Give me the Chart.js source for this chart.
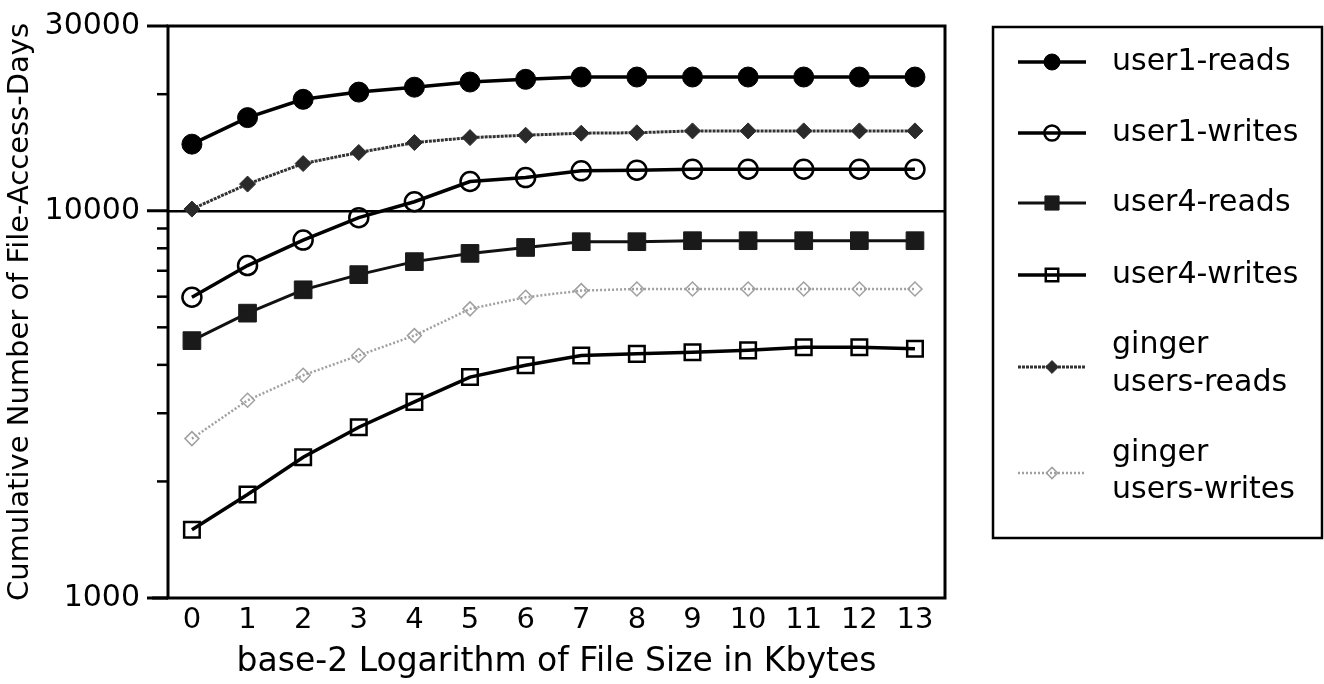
<!DOCTYPE html>
<html>
<head>
<meta charset="utf-8">
<script src="https://cdn.jsdelivr.net/npm/chart.js@4/dist/chart.umd.min.js"></script>
<style>
  html, body { margin: 0; padding: 0; background: #fff; }
  #wrap { width: 1324px; height: 684px; position: relative; }
</style>
</head>
<body>
<div id="wrap"><canvas id="c" width="1324" height="684"></canvas></div>
<script>
// ---- data ----
const xValues = [0, 1, 2, 3, 4, 5, 6, 7, 8, 9, 10, 11, 12, 13];
const user1Reads   = [14860, 17400, 19400, 20250, 20850, 21500, 21850, 22150, 22150, 22150, 22150, 22150, 22150, 22150];
const user1Writes  = [5980, 7220, 8400, 9600, 10550, 11900, 12180, 12680, 12730, 12800, 12800, 12800, 12800, 12800];
const user4Reads   = [4620, 5440, 6250, 6840, 7390, 7760, 8040, 8320, 8320, 8370, 8370, 8370, 8370, 8370];
const user4Writes  = [1500, 1850, 2310, 2760, 3210, 3720, 3990, 4230, 4270, 4310, 4360, 4440, 4440, 4400];
const gingerReads  = [10100, 11720, 13240, 14140, 15000, 15450, 15670, 15860, 15900, 16080, 16080, 16080, 16080, 16080];
const gingerWrites = [2580, 3240, 3760, 4230, 4760, 5580, 5980, 6220, 6280, 6280, 6280, 6280, 6280, 6280];
const yMajorLabels = [1000, 10000, 30000];
const yMinorTicks = [2000, 3000, 4000, 5000, 6000, 7000, 8000, 9000, 20000];
const xTitle = 'base-2 Logarithm of File Size in Kbytes';
const yTitle = 'Cumulative Number of File-Access-Days';

const FONT = 'DejaVu Sans';
const pts = arr => arr.map((v, i) => ({ x: xValues[i], y: v }));

const seriesDefs = [
  { label: 'user1-reads', data: user1Reads, color: '#000', width: 3.5, dash: [], pointStyle: 'circle', radius: 10, fill: '#000', pborder: '#000', pwidth: 1 },
  { label: 'user1-writes', data: user1Writes, color: '#000', width: 3.5, dash: [], pointStyle: 'circle', radius: 9.5, fill: 'rgba(255,255,255,0)', pborder: '#000', pwidth: 2.5 },
  { label: 'user4-reads', data: user4Reads, color: '#111', width: 3, dash: [], pointStyle: 'rect', radius: 12.5, fill: '#1a1a1a', pborder: '#1a1a1a', pwidth: 1 },
  { label: 'user4-writes', data: user4Writes, color: '#000', width: 3.5, dash: [], pointStyle: 'rect', radius: 11, fill: 'rgba(255,255,255,0)', pborder: '#000', pwidth: 2.5 },
  { label: ['ginger', 'users-reads'], data: gingerReads, color: '#333', width: 3, dash: [3, 1], pointStyle: 'rectRot', radius: 8, fill: '#2a2a2a', pborder: '#2a2a2a', pwidth: 1 },
  { label: ['ginger', 'users-writes'], data: gingerWrites, color: '#a0a0a0', width: 2.5, dash: [2, 2], pointStyle: 'rectRot', radius: 7, fill: 'rgba(255,255,255,0)', pborder: '#a0a0a0', pwidth: 1.5 }
];

const datasets = seriesDefs.map(s => ({
  label: Array.isArray(s.label) ? s.label.join(' ') : s.label,
  data: pts(s.data),
  borderColor: s.color,
  borderWidth: s.width,
  borderDash: s.dash,
  pointStyle: s.pointStyle,
  pointRadius: s.radius,
  pointBackgroundColor: s.fill,
  pointBorderColor: s.pborder,
  pointBorderWidth: s.pwidth,
  tension: 0,
  fill: false
}));
datasets.forEach((d, i) => { d.order = i >= 4 ? 10 : 5 - i; });

const frameAndLegend = {
  id: 'frameAndLegend',
  afterDraw(chart) {
    const ctx = chart.ctx;
    const a = chart.chartArea;
    const ys = chart.scales.y;
    ctx.save();
    ctx.strokeStyle = '#000';
    ctx.lineWidth = 3;
    ctx.strokeRect(a.left, a.top, a.right - a.left, a.bottom - a.top);
    ctx.beginPath();
    ctx.moveTo(a.left - 16, a.bottom);
    ctx.lineTo(a.left, a.bottom);
    ctx.stroke();
    // y tick marks
    yMajorLabels.forEach(v => {
      const py = ys.getPixelForValue(v);
      ctx.beginPath();
      ctx.moveTo(a.left - 21, py);
      ctx.lineTo(a.left, py);
      ctx.stroke();
    });
    ctx.lineWidth = 2.5;
    yMinorTicks.forEach(v => {
      const py = ys.getPixelForValue(v);
      ctx.beginPath();
      ctx.moveTo(a.left - 11, py);
      ctx.lineTo(a.left, py);
      ctx.stroke();
    });

    // legend
    const lx = 993, ly = 27, lw = 329, lh = 511;
    ctx.lineWidth = 2.5;
    ctx.strokeStyle = '#000';
    ctx.strokeRect(lx, ly, lw, lh);
    const rows = [
      { lines: [62], mark: 62 },
      { lines: [133], mark: 133 },
      { lines: [203], mark: 203 },
      { lines: [275], mark: 275 },
      { lines: [345, 383], mark: 367 },
      { lines: [453, 490], mark: 473 }
    ];
    ctx.font = '30px "' + FONT + '"';
    ctx.fillStyle = '#000';
    ctx.textBaseline = 'middle';
    ctx.textAlign = 'left';
    seriesDefs.forEach((s, i) => {
      const r = rows[i];
      ctx.save();
      ctx.strokeStyle = s.color;
      ctx.lineWidth = s.width;
      ctx.setLineDash(s.dash);
      ctx.beginPath();
      ctx.moveTo(1018, r.mark);
      ctx.lineTo(1086, r.mark);
      ctx.stroke();
      ctx.setLineDash([]);
      ctx.fillStyle = s.fill;
      ctx.strokeStyle = s.pborder;
      ctx.lineWidth = s.pwidth;
      Chart.helpers.drawPoint(ctx, { pointStyle: s.pointStyle, radius: s.radius * 0.8, rotation: 0, borderWidth: s.pwidth }, 1052, r.mark);
      ctx.restore();
      const labs = Array.isArray(s.label) ? s.label : [s.label];
      labs.forEach((t, k) => ctx.fillText(t, 1112, r.lines[k]));
    });
    ctx.restore();
  }
};

new Chart(document.getElementById('c'), {
  type: 'line',
  data: { datasets },
  options: {
    responsive: false,
    animation: false,
    events: [],
    layout: { padding: { left: 0, right: 379, top: 26, bottom: 0 } },
    plugins: { legend: { display: false }, tooltip: { enabled: false } },
    scales: {
      x: {
        type: 'linear',
        min: -0.43,
        max: 13.54,
        afterBuildTicks: s => { s.ticks = xValues.map(v => ({ value: v })); },
        afterFit: s => { s.height = 86; },
        grid: { display: false, drawTicks: false },
        border: { display: false },
        ticks: { color: '#000', font: { family: FONT, size: 29 }, padding: 5, maxRotation: 0, autoSkip: false },
        title: { display: true, text: xTitle, color: '#000', font: { family: FONT, size: 33 }, padding: { top: 0, bottom: 2 } }
      },
      y: {
        type: 'logarithmic',
        min: 1000,
        max: 30000,
        afterBuildTicks: s => {
          s.ticks = yMajorLabels.concat(yMinorTicks).sort((p, q) => p - q).map(v => ({ value: v }));
        },
        afterFit: s => { s.width = 168; },
        grid: {
          drawTicks: true,
          tickLength: 28,
          tickColor: 'rgba(0,0,0,0)',
          lineWidth: 2.5,
          color: c => (c.tick && c.tick.value === 10000) ? '#000' : 'rgba(0,0,0,0)'
        },
        border: { display: false },
        ticks: {
          color: '#000',
          font: { family: FONT, size: 30 },
          padding: 0,
          autoSkip: false,
          callback: v => yMajorLabels.includes(v) ? String(v) : ''
        },
        title: { display: true, text: yTitle, color: '#000', font: { family: FONT, size: 29 }, padding: { top: 3, bottom: 0 } }
      }
    }
  },
  plugins: [frameAndLegend]
});
</script>
</body>
</html>
